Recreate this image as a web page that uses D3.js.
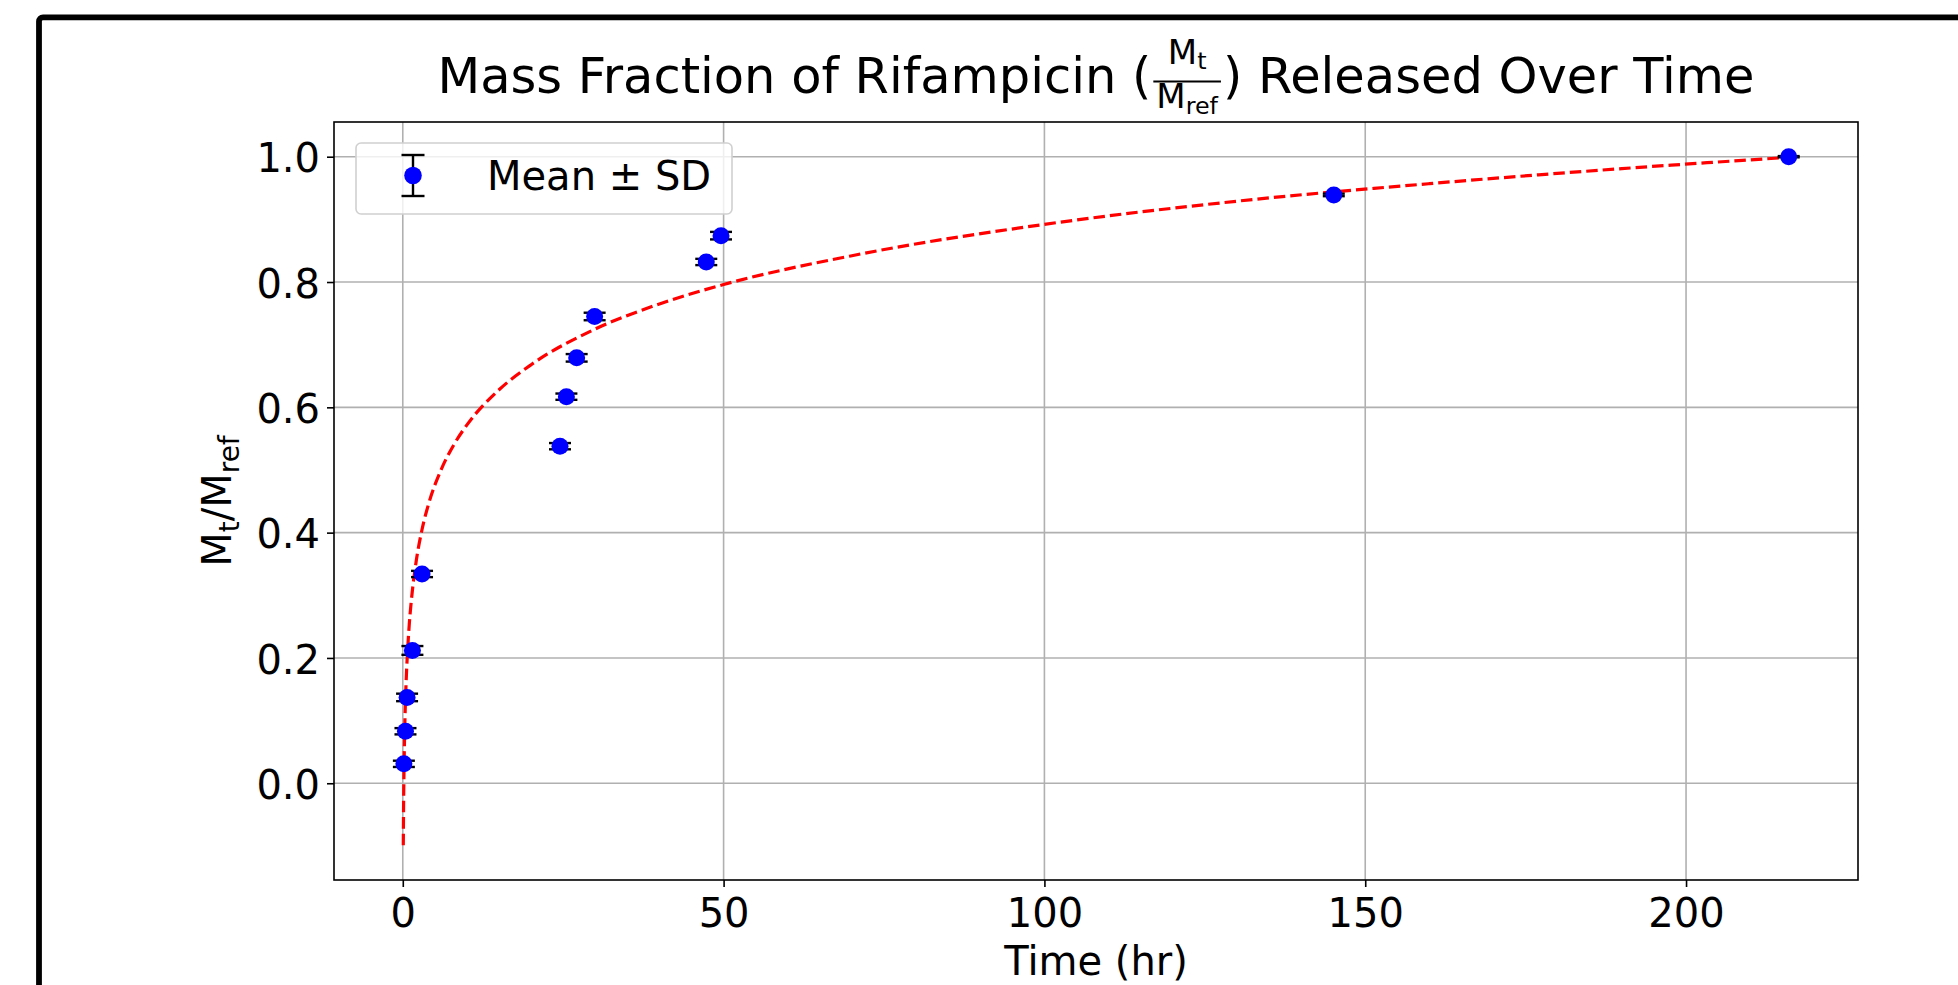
<!DOCTYPE html>
<html><head><meta charset="utf-8">
<script src="https://cdn.jsdelivr.net/npm/d3@7"></script>
<style>
html,body{margin:0;padding:0;background:#fff;overflow:hidden}
svg{display:block}
text{font-family:"DejaVu Sans",sans-serif;fill:#000}
</style></head><body>
<svg id="chart" width="1958" height="985"></svg>
<script>
// ---- data ----
const timeHr       = [0.17, 0.42, 0.67, 1.5, 3.0, 24.5, 25.5, 27.1, 29.9, 47.3, 49.6, 145.1, 216.0];
const meanFraction = [0.031, 0.083, 0.137, 0.212, 0.334, 0.538, 0.617, 0.679, 0.745, 0.832, 0.874, 0.939, 1.0];
const sdFraction   = [0.005, 0.005, 0.006, 0.007, 0.005, 0.005, 0.005, 0.006, 0.006, 0.005, 0.006, 0.002, 0.001];
// fitted curve (red dashed)
const fitTime      = [0.08, 0.12, 0.2, 0.3, 0.5, 0.75, 1, 1.5, 2, 3, 4, 6, 8, 10, 15, 20, 30, 40, 50, 70, 100, 130, 160, 190, 216];
const fitFraction  = [-0.099, -0.043, 0.028, 0.085, 0.156, 0.212, 0.252, 0.308, 0.348, 0.405, 0.445, 0.501, 0.541, 0.572, 0.628, 0.668, 0.725, 0.765, 0.796, 0.842, 0.892, 0.929, 0.957, 0.981, 0.999];
const xTicks = [0, 50, 100, 150, 200];
const yTicks = [0.0, 0.2, 0.4, 0.6, 0.8, 1.0];
const legendLabel = "Mean ± SD";
const xLabel = "Time (hr)";

const svg = d3.select("#chart");
const L = 334, R = 1858, T = 122, B = 880;
const x = d3.scaleLinear().domain([-10.72, 226.8]).range([L, R]);
const y = d3.scaleLinear().domain([-0.1544, 1.0554]).range([B, T]);

// figure frame
svg.append("rect").attr("x", 39).attr("y", 17.3).attr("width", 4000).attr("height", 4000)
  .attr("rx", 4).attr("fill", "none").attr("stroke", "#000").attr("stroke-width", 5.8);

// grid
const grid = svg.append("g");
grid.selectAll(".gx").data(xTicks).join("line")
  .attr("x1", d => x(d)).attr("x2", d => x(d)).attr("y1", T).attr("y2", B)
  .attr("stroke", "#b0b0b0").attr("stroke-width", 1.6);
grid.selectAll(".gy").data(yTicks).join("line")
  .attr("y1", d => y(d)).attr("y2", d => y(d)).attr("x1", L).attr("x2", R)
  .attr("stroke", "#b0b0b0").attr("stroke-width", 1.6);

// axes
const xAxis = svg.append("g").attr("transform", `translate(0,${B})`)
  .call(d3.axisBottom(x).tickValues(xTicks).tickFormat(d3.format("d")).tickSize(7).tickPadding(12));
const yAxis = svg.append("g").attr("transform", `translate(${L},0)`)
  .call(d3.axisLeft(y).tickValues(yTicks).tickFormat(d3.format(".1f")).tickSize(7).tickPadding(7));
[xAxis, yAxis].forEach(g => {
  g.select(".domain").remove();
  g.selectAll(".tick line").attr("stroke", "#000").attr("stroke-width", 1.6);
  g.selectAll(".tick text").attr("font-size", 40).attr("font-family", "DejaVu Sans").attr("fill", "#000");
});
yAxis.selectAll(".tick text").attr("dy", "0.38em");

// fit curve
const line = d3.line().x(d => x(d[0])).y(d => y(d[1])).curve(d3.curveMonotoneX);
svg.append("path").datum(fitTime.map((t, i) => [t, fitFraction[i]]))
  .attr("d", line).attr("fill", "none").attr("stroke", "#ff0000")
  .attr("stroke-width", 3.2).attr("stroke-dasharray", "11.5,5");

// error bars + markers
const pts = timeHr.map((t, i) => ({t, m: meanFraction[i], s: sdFraction[i]}));
const eb = svg.append("g").attr("stroke", "#000").attr("stroke-width", 2.4);
const capW = 11;
pts.forEach(p => {
  eb.append("line").attr("x1", x(p.t)).attr("x2", x(p.t)).attr("y1", y(p.m - p.s)).attr("y2", y(p.m + p.s));
  [p.m - p.s, p.m + p.s].forEach(v => eb.append("line")
    .attr("x1", x(p.t) - capW).attr("x2", x(p.t) + capW).attr("y1", y(v)).attr("y2", y(v)));
});
svg.append("g").selectAll("circle").data(pts).join("circle")
  .attr("cx", d => x(d.t)).attr("cy", d => y(d.m)).attr("r", 8.5).attr("fill", "#0000ff");

// spines
svg.append("rect").attr("x", L).attr("y", T).attr("width", R - L).attr("height", B - T)
  .attr("fill", "none").attr("stroke", "#000").attr("stroke-width", 1.6);

// legend
const lg = svg.append("g");
lg.append("rect").attr("x", 356).attr("y", 143).attr("width", 376).attr("height", 71).attr("rx", 5)
  .attr("fill", "#fff").attr("fill-opacity", 0.8).attr("stroke", "#d0d0d0").attr("stroke-width", 1.6);
const lx = 413, ly = 175.5;
lg.append("line").attr("x1", lx).attr("x2", lx).attr("y1", ly - 20.5).attr("y2", ly + 20.5).attr("stroke", "#000").attr("stroke-width", 2.4);
[ly - 20.5, ly + 20.5].forEach(v => lg.append("line").attr("x1", lx - 11.5).attr("x2", lx + 11.5)
  .attr("y1", v).attr("y2", v).attr("stroke", "#000").attr("stroke-width", 2.4));
lg.append("circle").attr("cx", lx).attr("cy", ly).attr("r", 8.8).attr("fill", "#0000ff");
lg.append("text").attr("x", 487).attr("y", 190).attr("font-size", 40).text(legendLabel);

// x label
svg.append("text").attr("x", (L + R) / 2).attr("y", 975).attr("text-anchor", "middle")
  .attr("font-size", 40).text(xLabel);

// y label M_t/M_ref
const yl = svg.append("text").attr("transform", `translate(231,${(T + B) / 2}) rotate(-90)`)
  .attr("text-anchor", "middle").attr("font-size", 40);
yl.append("tspan").text("M");
yl.append("tspan").attr("font-size", 28).attr("dy", 8).text("t");
yl.append("tspan").attr("dy", -8).text("/M");
yl.append("tspan").attr("font-size", 28).attr("dy", 8).text("ref");

// title with fraction
const tg = svg.append("g");
const tBase = 93, tSize = 49.5, fSize = 34, fSub = 23.8;
const t1 = tg.append("text").attr("y", tBase).attr("font-size", tSize).text("Mass Fraction of Rifampicin (");
const num = tg.append("text").attr("y", 64).attr("font-size", fSize);
num.append("tspan").text("M");
num.append("tspan").attr("font-size", fSub).attr("dy", 5).text("t");
const den = tg.append("text").attr("y", 108).attr("font-size", fSize);
den.append("tspan").text("M");
den.append("tspan").attr("font-size", fSub).attr("dy", 6).text("ref");
const t2 = tg.append("text").attr("y", tBase).attr("font-size", tSize).text(") Released Over Time");
const w1 = t1.node().getComputedTextLength();
const w2 = t2.node().getComputedTextLength();
const nw = num.node().getComputedTextLength();
const dw = den.node().getComputedTextLength();
const barW = Math.max(nw, dw) + 6;
const fracW = barW + 4;
const total = w1 + fracW + w2;
const x0 = (L + R) / 2 - total / 2;
t1.attr("x", x0);
const fx = x0 + w1 + 2;
tg.append("line").attr("x1", fx).attr("x2", fx + barW).attr("y1", 81.5).attr("y2", 81.5)
  .attr("stroke", "#000").attr("stroke-width", 2);
num.attr("x", fx + (barW - nw) / 2);
den.attr("x", fx + (barW - dw) / 2);
t2.attr("x", x0 + w1 + fracW);
</script>
</body></html>
